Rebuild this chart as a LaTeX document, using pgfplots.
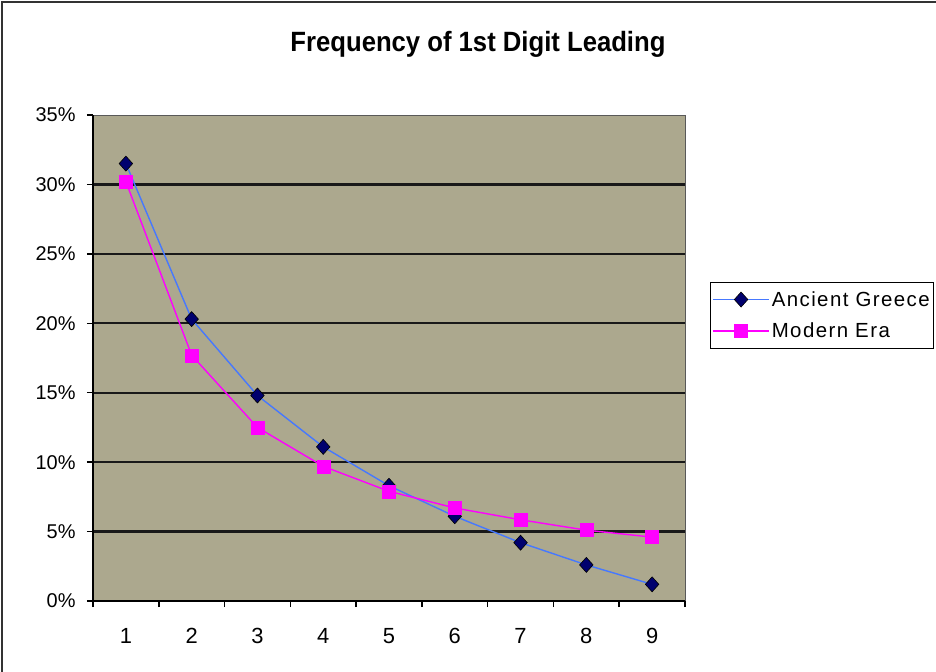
\documentclass[border=0pt]{standalone}
\usepackage{fontspec}
\setmainfont{Liberation Sans}
\newfontfamily\titlefont[FakeStretch=0.92]{Liberation Sans}
\newfontfamily\legfont[LetterSpace=7]{Liberation Sans}
\usepackage{pgfplots}
\pgfplotsset{compat=1.18}

\definecolor{plotbg}{RGB}{172,168,142}
\definecolor{greekline}{RGB}{70,120,255}
\definecolor{greekmark}{RGB}{0,0,110}
\definecolor{modern}{RGB}{255,0,255}

\begin{document}
\begin{tikzpicture}
\begin{axis}[
  at={(0,0)}, anchor=south west,
  scale only axis, width=592bp, height=486bp,
  xmin=0.5, xmax=9.5, ymin=0, ymax=35,
  axis lines=left,
  axis line style={-, line width=1.8bp, black},
  axis background/.style={fill=plotbg, draw=gray!70!black, line width=0.8bp},
  tick align=outside,
  major tick length=6bp,
  tick style={line width=1.5bp, black},
  xtick={0.5,1.5,2.5,3.5,4.5,5.5,6.5,7.5,8.5,9.5},
  xticklabels={1,2,3,4,5,6,7,8,9},
  x tick label as interval,
  ytick={0,5,10,15,20,25,30},
  yticklabels={0\%,5\%,10\%,15\%,20\%,25\%,30\%},
  extra y ticks={35},
  extra y tick labels={35\%},
  extra y tick style={grid=none},
  ymajorgrids,
  grid style={line width=2.2bp, black!90},
  /pgf/number format/assume math mode=true,
  yticklabel style={font=\fontsize{20}{24}\selectfont, anchor=east, xshift=-8bp},
  xticklabel style={font=\fontsize{22}{26}\selectfont, yshift=-18bp},
  title={\titlefont\bfseries\fontsize{28}{32}\selectfont Frequency of 1st Digit Leading},
  title style={at={(0.6503,1.1193)}, anchor=base, inner sep=0pt},
  legend style={at={(1.0422,0.6564)}, anchor=north west, draw=black, line width=0.8bp,
    fill=white, font=\legfont\fontsize{20.5}{24}\selectfont, row sep=11bp,
    inner xsep=2bp, inner ysep=7bp},
  legend cell align=left,
  legend image code/.code={\draw[mark repeat=2, mark phase=2, #1]
    plot coordinates {(0bp,0bp) (28bp,0bp) (56bp,0bp)};},
]
\addplot[greekline, line width=1.4bp, mark=diamond*, mark size=7.5bp,
  mark options={fill=greekmark, draw=black, line width=0.6bp, xscale=1.2}]
  coordinates {(1,31.5) (2,20.3) (3,14.8) (4,11.1) (5,8.3) (6,6.1) (7,4.2) (8,2.6) (9,1.2)};
\addlegendentry{Ancient Greece}
\addplot[modern, line width=1.4bp, mark=square*, mark size=6.5bp,
  mark options={fill=modern, draw=modern, line width=0.4bp}]
  coordinates {(1,30.2) (2,17.7) (3,12.5) (4,9.7) (5,7.9) (6,6.7) (7,5.85) (8,5.1) (9,4.6)};
\addlegendentry{Modern Era}
\end{axis}
\pgfresetboundingbox
\path[use as bounding box] (-93bp,-71bp) rectangle (843bp,601bp);
\draw[gray!40!black, line width=1.5bp] (-91bp,-100bp) -- (-91bp,599bp) -- (900bp,599bp);
\end{tikzpicture}
\end{document}
